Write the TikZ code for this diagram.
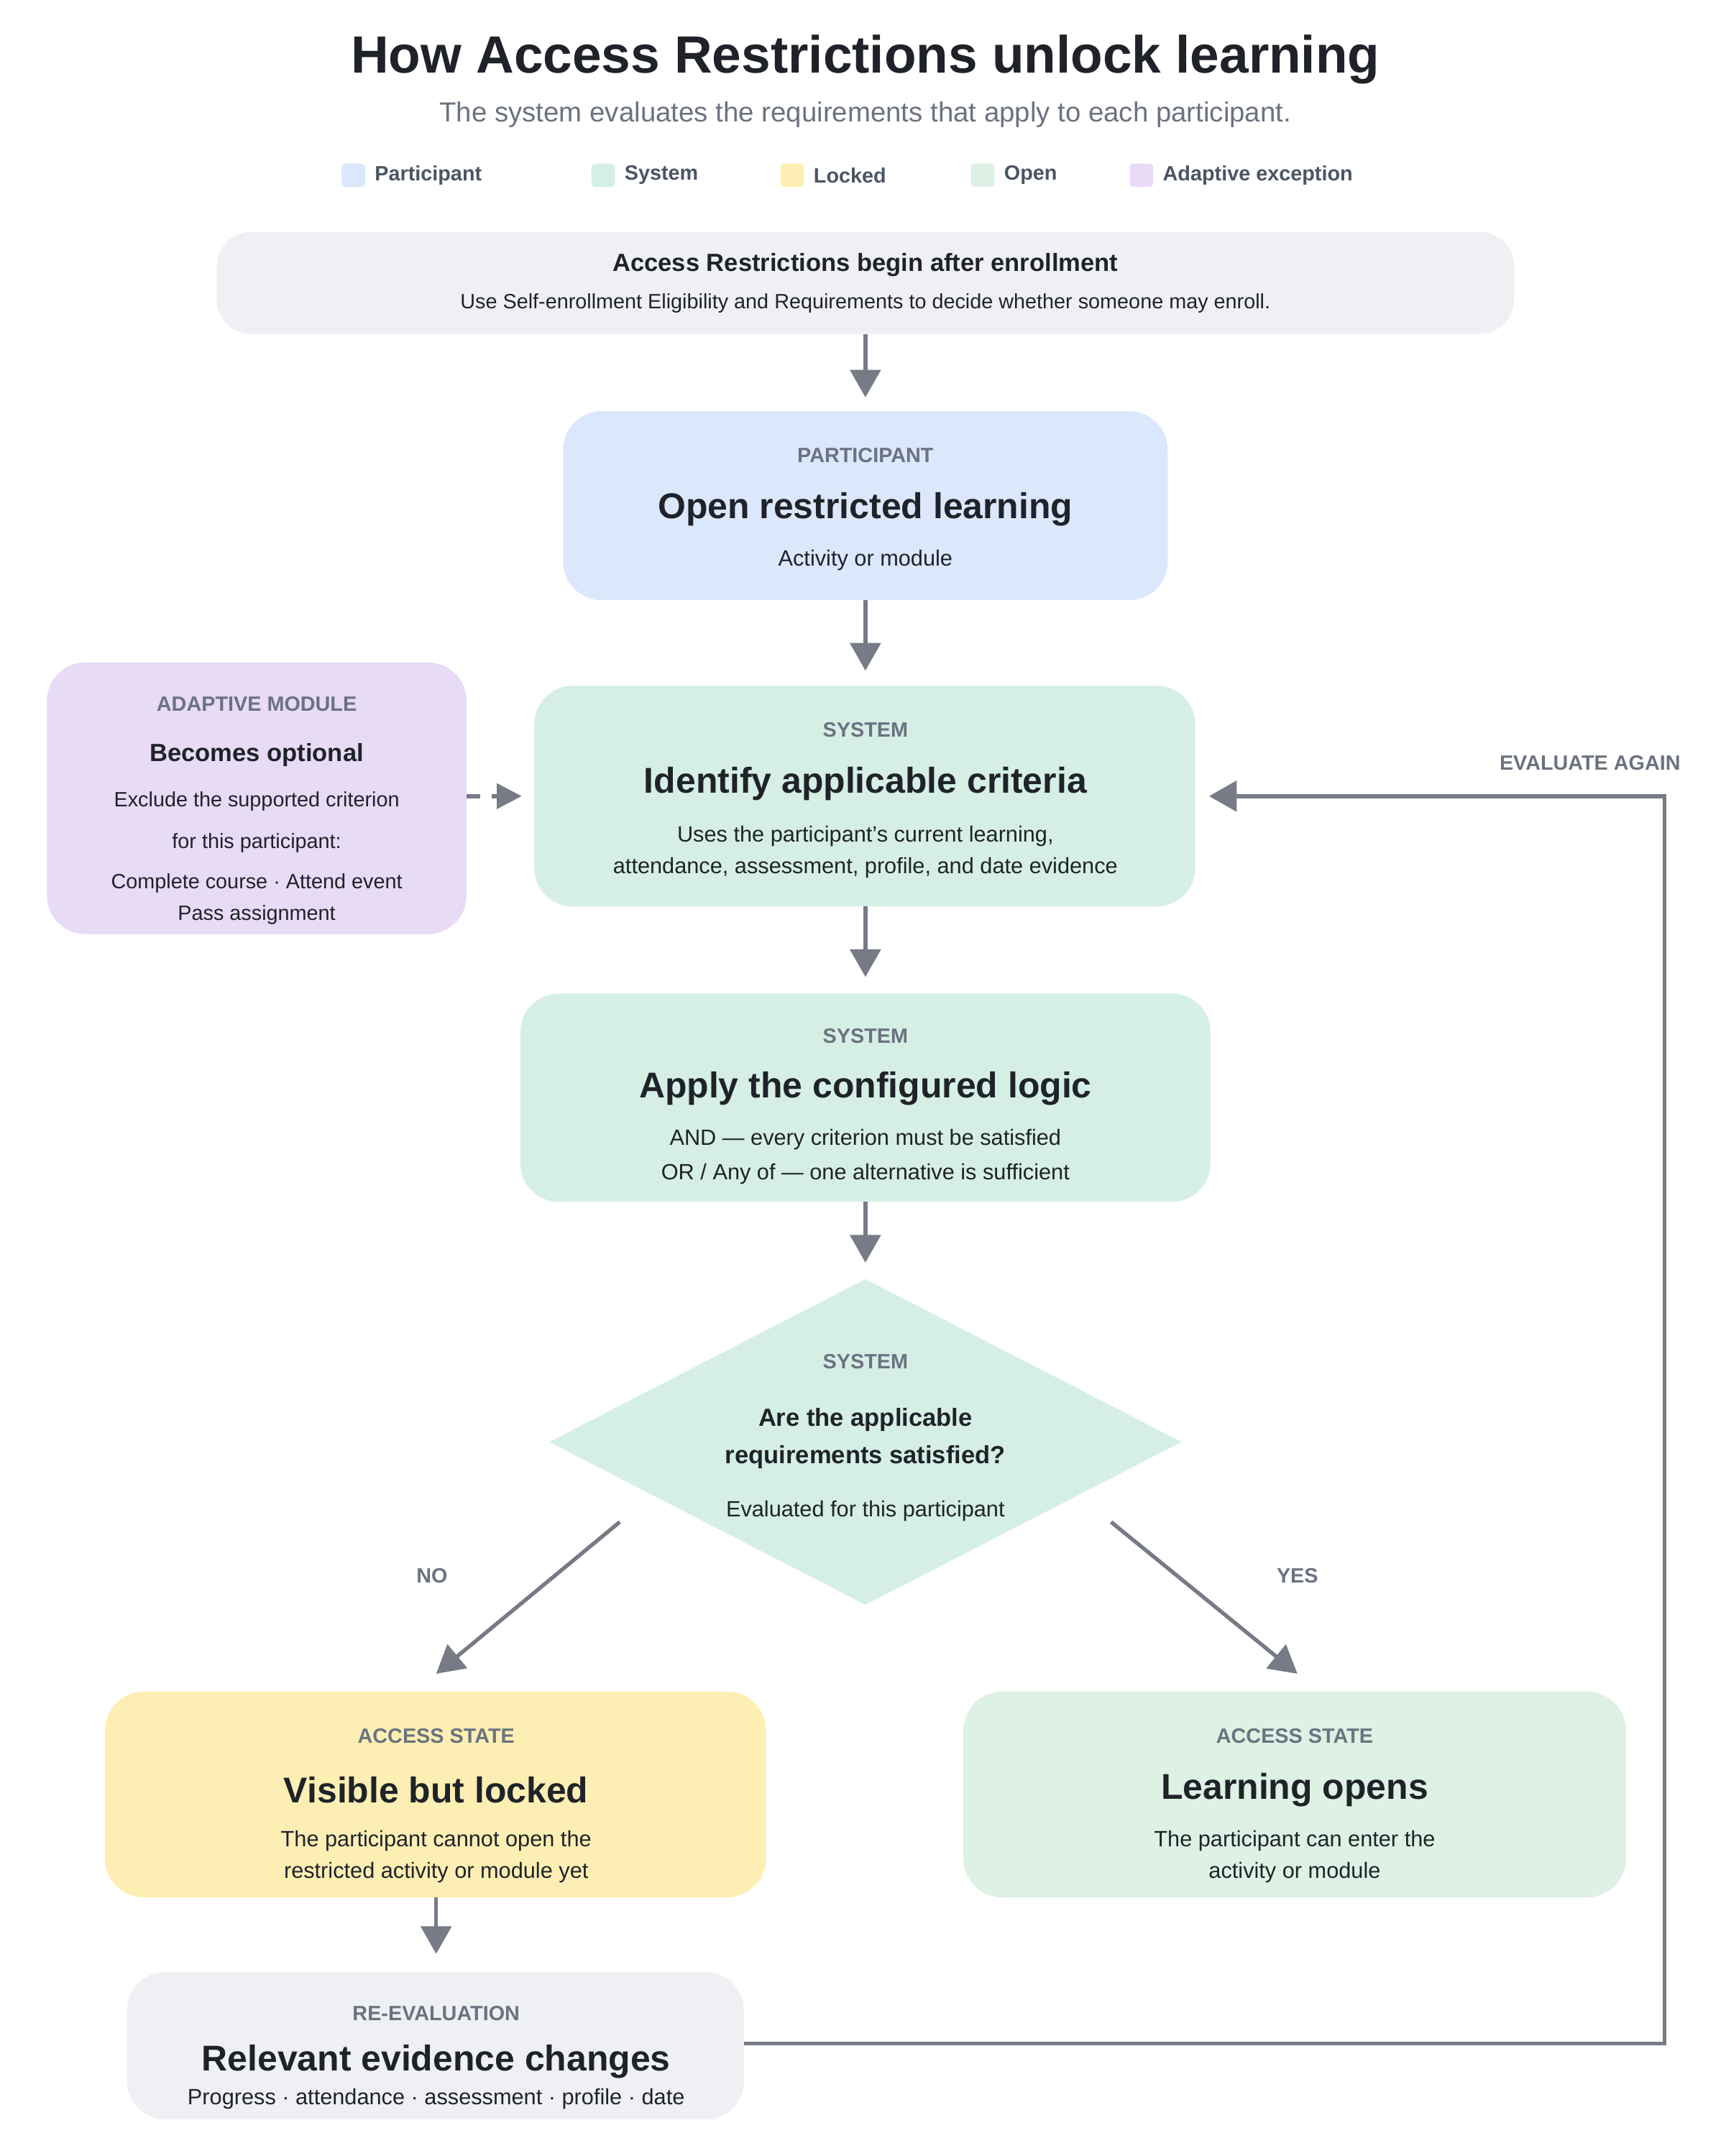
\documentclass[tikz,border=0pt]{standalone}
\usepackage{fontspec}
\setmainfont{Liberation Sans}
\usetikzlibrary{arrows.meta,shapes.geometric,calc}
\definecolor{ink}{HTML}{1F2329}
\definecolor{mute}{HTML}{6B7280}
\definecolor{lgd}{HTML}{4B5563}
\definecolor{arr}{HTML}{767B86}
\definecolor{cgray}{HTML}{EFF0F4}
\definecolor{cblue}{HTML}{DBE7FB}
\definecolor{cgreen}{HTML}{D5EFE5}
\definecolor{copen}{HTML}{DDF1E4}
\definecolor{cpurp}{HTML}{E8DBF6}
\definecolor{cyell}{HTML}{FDEFB3}
\tikzset{
 box/.style={rounded corners=26pt,draw=none,inner sep=0pt},
 tag/.style={font=\fontsize{15}{18}\selectfont\bfseries,text=mute},
 ttl/.style={font=\fontsize{26}{31}\selectfont\bfseries,text=ink},
 sub/.style={font=\fontsize{16}{19}\selectfont,text=ink},
 lg/.style={font=\fontsize{15}{18}\selectfont\bfseries,text=lgd,anchor=west},
 sq/.style={rounded corners=3pt,minimum size=17pt,inner sep=0pt},
 flow/.style={draw=arr,line width=2.8pt,-{Triangle[length=20pt,width=22pt]}},
}
\begin{document}
\begin{tikzpicture}[x=1pt,y=-1pt]
\useasboundingbox[fill=white] (0,0) rectangle (1250,1562.5);
\node[font=\fontsize{38}{44}\selectfont\bfseries,text=ink] (title) at (627,43) {How Access Restrictions unlock learning};
\node[font=\fontsize{20}{24}\selectfont,text=mute] (subt) at (627,83) {The system evaluates the requirements that apply to each participant.};
% legend
\node[sq,fill=cblue] (l1) at (256,127) {}; \node[lg] (t1) at (268,127) {Participant};
\node[sq,fill=cgreen] (l2) at (437,127) {}; \node[lg] (t2) at (449,127) {System};
\node[sq,fill=cyell] (l3) at (574,127) {}; \node[lg] (t3) at (586,127) {Locked};
\node[sq,fill=copen] (l4) at (712,127) {}; \node[lg] (t4) at (724,127) {Open};
\node[sq,fill=cpurp] (l5) at (827,127) {}; \node[lg] (t5) at (839,127) {Adaptive exception};
% top box
\fill[cgray,rounded corners=25pt] (157,168) rectangle (1097,242);
\coordinate (topb) at (627,242);
\node[font=\fontsize{18}{22}\selectfont\bfseries,text=ink] at (627,192) {Access Restrictions begin after enrollment};
\node[font=\fontsize{15}{18}\selectfont,text=ink] at (627,220) {Use Self-enrollment Eligibility and Requirements to decide whether someone may enroll.};
% participant
\fill[cblue,rounded corners=28pt] (408,298) rectangle (846,435);
\coordinate (pt) at (627,288); \coordinate (pb) at (627,435);
\node[tag] at (627,330) {PARTICIPANT};
\node[ttl] at (627,369) {Open restricted learning};
\node[sub] at (627,406) {Activity or module};
% system 1
\fill[cgreen,rounded corners=28pt] (387,497) rectangle (866,657);
\coordinate (s1t) at (627,486); \coordinate (s1b) at (627,657);
\coordinate (s1l) at (378,577); \coordinate (s1r) at (876,577);
\node[tag] at (627,529) {SYSTEM};
\node[ttl] at (627,568) {Identify applicable criteria};
\node[sub] at (627,606) {Uses the participant's current learning,};
\node[sub] at (627,629) {attendance, assessment, profile, and date evidence};
% adaptive
\fill[cpurp,rounded corners=28pt] (34,480) rectangle (338,677);
\coordinate (adr) at (338,577);
\node[tag] at (186,510) {ADAPTIVE MODULE};
\node[font=\fontsize{18}{22}\selectfont\bfseries,text=ink] at (186,547) {Becomes optional};
\node[font=\fontsize{15}{18}\selectfont,text=ink] at (186,581) {Exclude the supported criterion};
\node[font=\fontsize{15}{18}\selectfont,text=ink] at (186,611) {for this participant:};
\node[font=\fontsize{15}{18}\selectfont,text=ink] at (186,640) {Complete course · Attend event};
\node[font=\fontsize{15}{18}\selectfont,text=ink] at (186,663) {Pass assignment};
% system 2
\fill[cgreen,rounded corners=28pt] (377,720) rectangle (877,871);
\coordinate (s2t) at (627,708); \coordinate (s2b) at (627,871);
\node[tag] at (627,751) {SYSTEM};
\node[ttl] at (627,789) {Apply the configured logic};
\node[sub] at (627,826) {AND — every criterion must be satisfied};
\node[sub] at (627,851) {OR / Any of — one alternative is sufficient};
% diamond
\fill[cgreen] (398,1045) -- (627,927) -- (856,1045) -- (627,1163) -- cycle;
\coordinate (dt) at (627,915); \coordinate (dl) at (449,1103); \coordinate (dr) at (805,1103);
\node[tag] at (627,987) {SYSTEM};
\node[font=\fontsize{18}{22}\selectfont\bfseries,text=ink] at (627,1029) {Are the applicable};
\node[font=\fontsize{18}{22}\selectfont\bfseries,text=ink] at (627,1056) {requirements satisfied?};
\node[sub] at (627,1095) {Evaluated for this participant};
% locked
\fill[cyell,rounded corners=28pt] (76,1226) rectangle (555,1375);
\coordinate (lt) at (316,1213); \coordinate (lb) at (316,1375);
\node[tag] at (316,1258) {ACCESS STATE};
\node[ttl] at (316,1297) {Visible but locked};
\node[sub] at (316,1334) {The participant cannot open the};
\node[sub] at (316,1357) {restricted activity or module yet};
% open
\fill[copen,rounded corners=28pt] (698,1226) rectangle (1178,1375);
\coordinate (ot) at (940,1213);
\node[tag] at (938,1258) {ACCESS STATE};
\node[ttl] at (938,1297) {Learning opens};
\node[sub] at (938,1334) {The participant can enter the};
\node[sub] at (938,1357) {activity or module};
% re-eval
\fill[cgray,rounded corners=28pt] (92,1429) rectangle (539,1536);
\coordinate (rt) at (316,1416); \coordinate (rr) at (539,1481);
\node[tag] at (316,1459) {RE-EVALUATION};
\node[ttl] at (316,1494) {Relevant evidence changes};
\node[sub] at (316,1521) {Progress · attendance · assessment · profile · date};
% connectors
\draw[flow] (topb) -- (pt);
\draw[flow] (pb) -- (s1t);
\draw[flow] (s1b) -- (s2t);
\draw[flow] (s2b) -- (dt);
\draw[flow] (dl) -- (lt);
\draw[flow] (dr) -- (ot);
\draw[flow] (lb) -- (rt);
\draw[draw=arr,line width=2.8pt,dashed,dash pattern=on 10pt off 8pt,-{Triangle[length=18pt,width=18pt]}] (adr) -- (s1l);
\draw[flow] (rr) -- (1206,1481) -- (1206,577) -- (s1r);
\node[tag] at (313,1142) {NO};
\node[tag] at (940,1142) {YES};
\node[tag] at (1152,553) {EVALUATE AGAIN};
\end{tikzpicture}
\end{document}
